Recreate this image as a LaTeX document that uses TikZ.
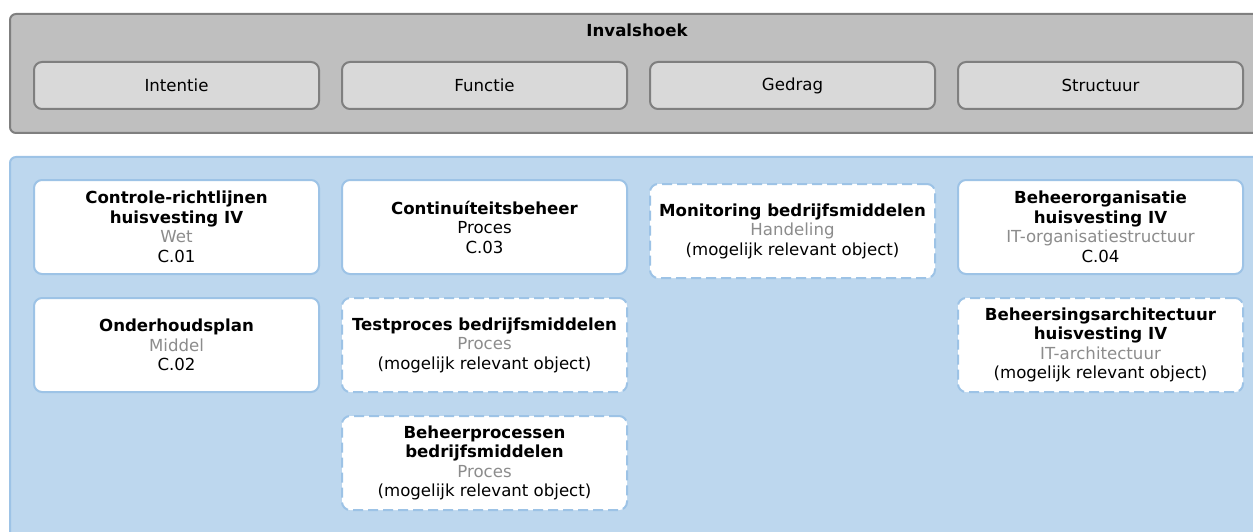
\documentclass[tikz,border=0pt]{standalone}
\usepackage{fontspec}
\setmainfont{DejaVu Sans}
\usepackage{tikz}
\usetikzlibrary{positioning}
\definecolor{kadergrijs}{HTML}{BFBFBF}
\definecolor{lijngrijs}{HTML}{7F7F7F}
\definecolor{vakgrijs}{HTML}{D9D9D9}
\definecolor{kaderblauw}{HTML}{BDD7EE}
\definecolor{lijnblauw}{HTML}{9DC3E6}
\definecolor{typegrijs}{HTML}{8C8C8C}

\begin{document}
\begin{tikzpicture}[x=1pt,y=-1pt,
  every node/.style={font=\fontsize{16.6}{19.5}\selectfont, align=center, inner sep=0pt},
  groep/.style={draw=lijngrijs, fill=kadergrijs, line width=2pt, rounded corners=6pt, anchor=north west},
  domein/.style={draw=lijnblauw, fill=kaderblauw, line width=2pt, rounded corners=6pt, anchor=north west},
  invals/.style={draw=lijngrijs, fill=vakgrijs, line width=2pt, rounded corners=8pt,
    minimum width=285pt, minimum height=47pt, anchor=north west},
  object/.style={draw=lijnblauw, fill=white, line width=2pt, rounded corners=8pt,
    minimum width=285pt, minimum height=94pt, anchor=north west},
  mogelijk/.style={object, dash pattern=on 10pt off 5pt}]
\clip (0,0) rectangle (1253,532);

% invalshoeken
\node[groep, minimum width=1256pt, minimum height=119pt] (invalshoek) at (9,13) {};
\node[font=\fontsize{16.6}{19.5}\selectfont\bfseries] (kop) at (637,30) {Invalshoek};
\node[invals] (intentie) at (33,61) {Intentie};
\node[invals] (functie) at (341,61) {Functie};
\node[invals] (gedrag) at (649,61) {Gedrag};
\node[invals] (structuur) at (957,61) {Structuur};

% objecten
\node[domein, minimum width=1256pt, minimum height=400pt] (vlak) at (9,156) {};
\node[object] (c01) at (33,179) {\textbf{Controle-richtlijnen}\\\textbf{huisvesting IV}\\{\color{typegrijs}Wet}\\C.01};
\node[object] (c02) at (33,297) {\textbf{Onderhoudsplan}\\{\color{typegrijs}Middel}\\C.02};
\node[object] (c03) at (341,179) {\textbf{Continuíteitsbeheer}\\Proces\\C.03};
\node[mogelijk] (testproces) at (341,297) {\textbf{Testproces bedrijfsmiddelen}\\{\color{typegrijs}Proces}\\(mogelijk relevant object)};
\node[mogelijk] (beheerprocessen) at (341,415) {\textbf{Beheerprocessen}\\\textbf{bedrijfsmiddelen}\\{\color{typegrijs}Proces}\\(mogelijk relevant object)};
\node[mogelijk] (monitoring) at (649,183) {\textbf{Monitoring bedrijfsmiddelen}\\{\color{typegrijs}Handeling}\\(mogelijk relevant object)};
\node[object] (c04) at (957,179) {\textbf{Beheerorganisatie}\\\textbf{huisvesting IV}\\{\color{typegrijs}IT-organisatiestructuur}\\C.04};
\node[mogelijk] (beheersing) at (957,297) {\textbf{Beheersingsarchitectuur}\\\textbf{huisvesting IV}\\{\color{typegrijs}IT-architectuur}\\(mogelijk relevant object)};
\end{tikzpicture}
\end{document}
